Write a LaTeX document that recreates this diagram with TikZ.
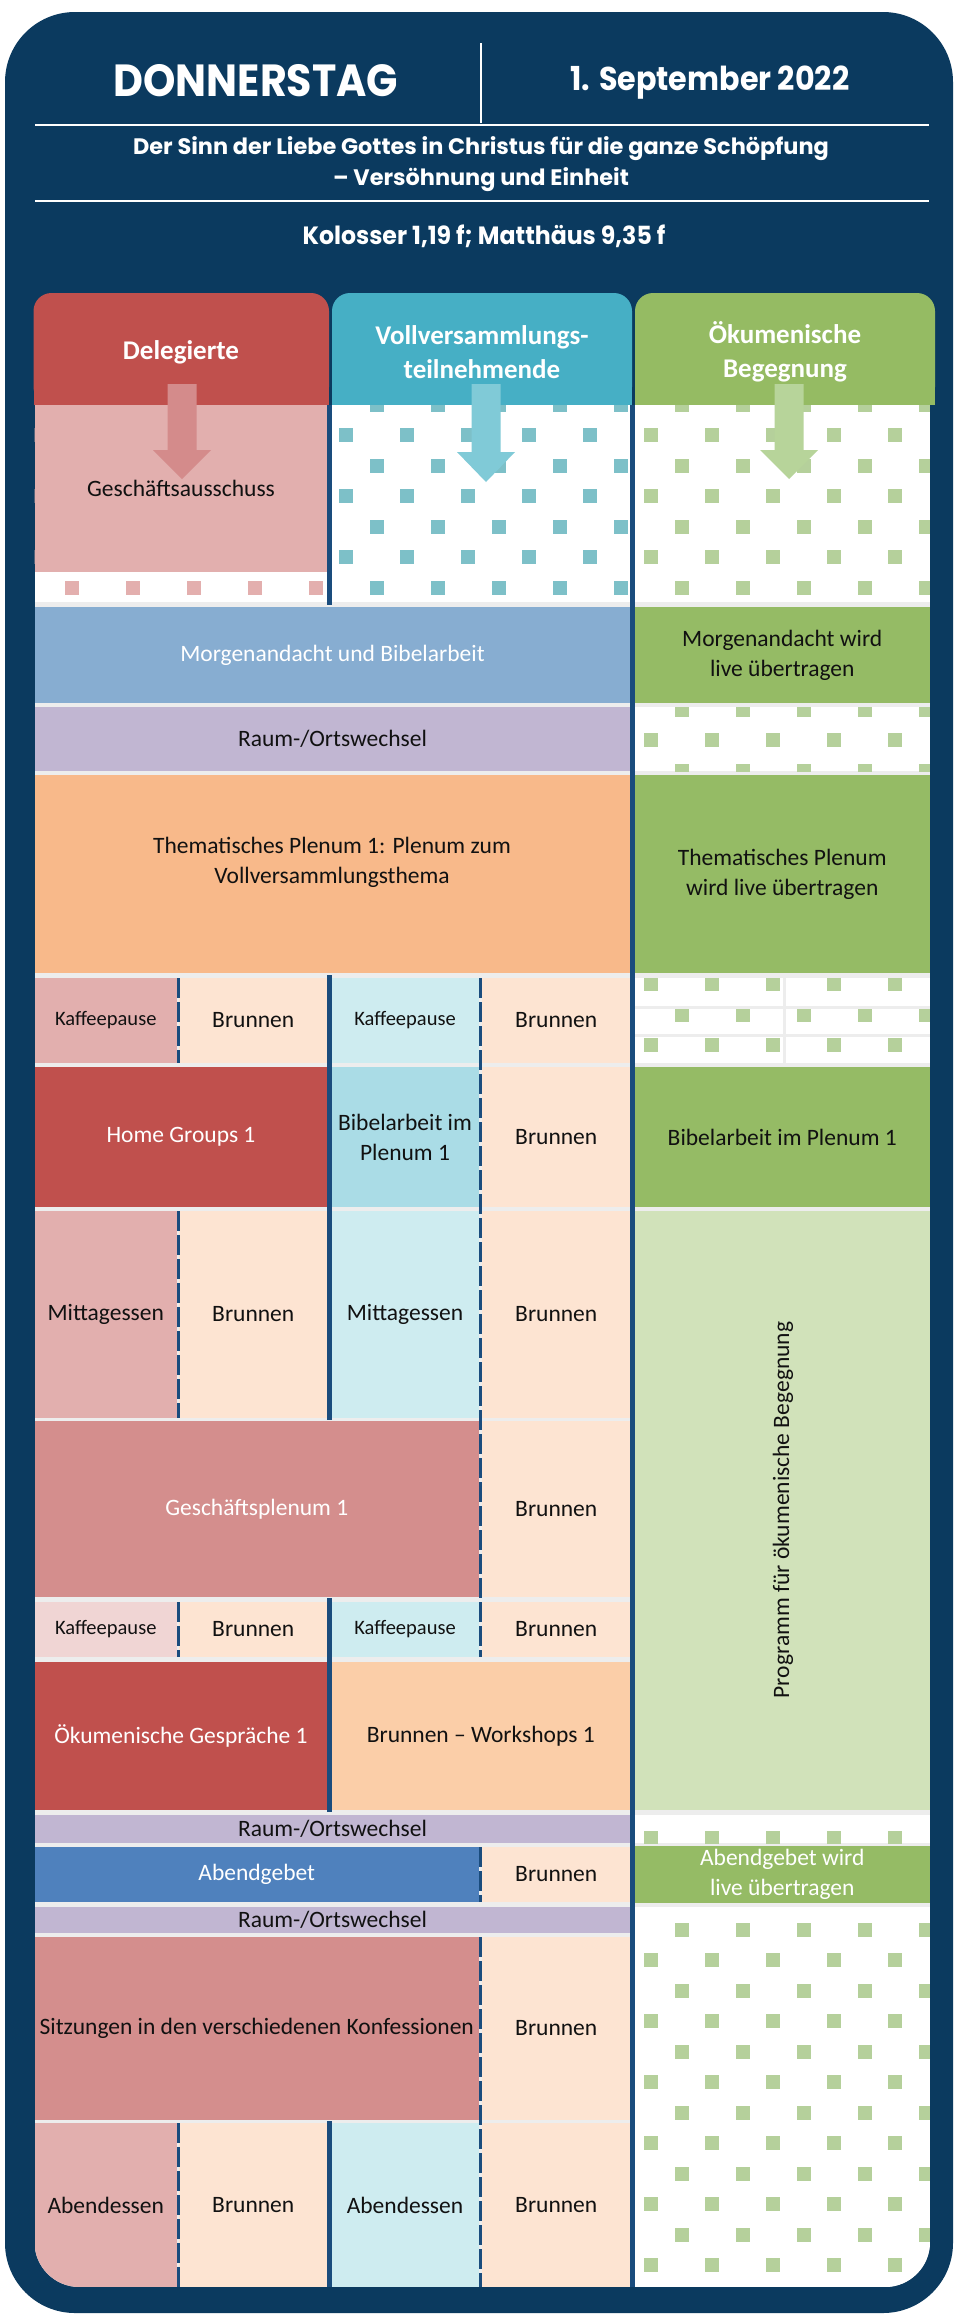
\documentclass[tikz,border=0pt]{standalone}
\usepackage{fontspec}
\setmainfont{Carlito}
\newfontfamily\headfont{Poppins}
\newfontfamily\headfontA[FakeStretch=0.915]{Poppins}
\newfontfamily\headfontB[FakeStretch=0.945]{Poppins}
\definecolor{navy}{HTML}{0B3A5F}
\definecolor{sep}{HTML}{1A4C7D}
\definecolor{hred}{HTML}{C0504D}
\definecolor{hteal}{HTML}{46AFC5}
\definecolor{hgreen}{HTML}{95BB63}
\definecolor{pinkL}{HTML}{E2AFAE}
\definecolor{pinkM}{HTML}{D48E8D}
\definecolor{pinkVL}{HTML}{F0D5D4}
\definecolor{peach}{HTML}{FDE4D2}
\definecolor{blueL}{HTML}{CEECF0}
\definecolor{blueM}{HTML}{AADCE6}
\definecolor{steel}{HTML}{87ADD1}
\definecolor{lav}{HTML}{C1B6D2}
\definecolor{orangeT}{HTML}{F8B98A}
\definecolor{peachO}{HTML}{FBCEA8}
\definecolor{abend}{HTML}{4F81BD}
\definecolor{gmid}{HTML}{95BB65}
\definecolor{glight}{HTML}{D1E2BA}
\definecolor{gapc}{HTML}{EDEDED}
\definecolor{pinksq}{HTML}{E3AFAE}
\definecolor{tealsq}{HTML}{7DC0C8}
\definecolor{greensq}{HTML}{B5D09B}
\definecolor{arrpink}{HTML}{D48B8B}
\definecolor{arrteal}{HTML}{80CAD7}
\definecolor{arrgreen}{HTML}{B7D49A}
\definecolor{txt}{HTML}{111111}
\tikzset{
  cellbox/.style={inner sep=0pt, outer sep=0pt, align=center, draw=none,
    font=\fontsize{23.5}{30}\selectfont, text=txt},
  smalltext/.style={font=\fontsize{20.5}{26}\selectfont},
  hdrshape/.style={inner sep=0pt, outer sep=0pt, draw=none, rounded corners=18pt},
  hdrtext/.style={inner sep=0pt, align=center, text=white,
    font=\fontsize{27}{34}\selectfont\bfseries},
  titletext/.style={inner sep=0pt, text=white, align=center},
  solidsep/.style={draw=sep, line width=4.5pt},
  dashsep/.style={draw=sep, line width=3pt, dash pattern=on 20pt off 4pt},
  whiteline/.style={draw=white, line width=2pt},
}
\newcommand\cell[7][]{%
  \node[cellbox,#1,minimum width={#5-#3},minimum height={#6-#4}] (#2)
    at ({(#3+#5)/2},{(#4+#6)/2}) {#7};}
\newcommand\patt[5]{%
  \begin{scope}
  \clip (#1,#2) rectangle (#3,#4);
  \fill[white] (#1,#2) rectangle (#3,#4);
  \pgfmathtruncatemacro\pja{max(0,floor((#2-374)/30.5)-1)}%
  \pgfmathtruncatemacro\pjb{ceil((#4-374)/30.5)+1}%
  \pgfmathtruncatemacro\pia{floor((#1+20)/61)-1}%
  \pgfmathtruncatemacro\pib{ceil((#3+20)/61)+1}%
  \foreach \j in {\pja,...,\pjb}{%
    \pgfmathsetmacro\pyy{374+30.5*\j}%
    \pgfmathsetmacro\pxo{-20+30.5*mod(\j,2)}%
    \foreach \i in {\pia,...,\pib}{%
      \fill[#5] ({\pxo+61*\i-7},{\pyy-7}) rectangle ++(14,14);
    }}
  \end{scope}}
\begin{document}
\begin{tikzpicture}[x=1pt,y=-1pt]
\useasboundingbox (0,0) rectangle (955,2316);
\fill[white] (0,0) rectangle (955,2316);
\fill[navy, rounded corners=70pt] (5,12) rectangle (953,2313);

% ---- title block
\node[titletext, anchor=base, font=\headfontA\bfseries\fontsize{45}{50}\selectfont] (day) at (256,96.5) {DONNERSTAG};
\node[titletext, anchor=base, font=\headfontA\bfseries\fontsize{33}{40}\selectfont] (date) at (710,90) {1. September 2022};
\coordinate (vtop) at (481,43);
\coordinate (vbot) at (481,123);
\draw[white, line width=1.5pt] (vtop) -- (vbot);
\coordinate (l1a) at (35,125); \coordinate (l1b) at (929,125);
\coordinate (l2a) at (35,201); \coordinate (l2b) at (929,201);
\draw[whiteline] (l1a) -- (l1b);
\draw[whiteline] (l2a) -- (l2b);
\node[titletext, anchor=base, font=\headfont\bfseries\fontsize{22.4}{27}\selectfont] (sub1) at (481,154) {Der Sinn der Liebe Gottes in Christus für die ganze Schöpfung};
\node[titletext, anchor=base, font=\headfont\bfseries\fontsize{22.4}{27}\selectfont] (sub2) at (481,185.7) {– Versöhnung und Einheit};
\node[titletext, anchor=base, font=\headfontB\bfseries\fontsize{25}{30}\selectfont] (verse) at (484,244.3) {Kolosser 1,19 f; Matthäus 9,35 f};

% ---- column headers
\node[hdrshape, fill=hred, minimum width=295.5, minimum height=112] (hdel) at (181.25,349) {};
\fill[hred] (33.5,330) rectangle (329,405);
\node[hdrshape, fill=hteal, minimum width=300, minimum height=112] (hvoll) at (482,349) {};
\fill[hteal] (332,330) rectangle (632,405);
\node[hdrshape, fill=hgreen, minimum width=300, minimum height=112] (hoek) at (785,349) {};
\fill[hgreen] (635,330) rectangle (935,405);
\node[hdrtext] (tdel) at (181,352) {Delegierte};
\node[hdrtext] (tvoll) at (482,352) {Vollversammlungs-\\teilnehmende};
\node[hdrtext] (toek) at (785,352) {Ökumenische\\Begegnung};

% ---- content
\begin{scope}
\clip[rounded corners=45pt] (34.5,300) rectangle (930,2287);
\fill[gapc] (34.5,405) rectangle (930,2287);

% top area
\patt{34.5}{405}{329}{602}{pinksq}
\cell[fill=pinkL]{ga}{34.5}{405}{327.5}{572}{Geschäftsausschuss}
\patt{331}{405}{630.5}{602}{tealsq}
\patt{634.5}{405}{930}{602}{greensq}

% row A
\cell[fill=steel, text=white]{mab}{34.5}{607}{630.5}{703}{Morgenandacht und Bibelarbeit}
\cell[fill=gmid]{mlive}{634.5}{607}{930}{703}{Morgenandacht wird\\live übertragen}
% row B
\cell[fill=lav]{rw1}{34.5}{707}{630.5}{771}{Raum-/Ortswechsel}
\patt{634.5}{707}{930}{771}{greensq}
% row C
\cell[fill=orangeT]{tp}{34.5}{775}{630.5}{973}{}
\node[cellbox] (tptext) at (332,862) {Thematisches Plenum 1: Plenum zum\\Vollversammlungsthema};
\cell[fill=gmid]{tplive}{634.5}{775}{930}{973}{Thematisches Plenum\\wird live übertragen}
% row D
\cell[fill=pinkL, smalltext]{kd1}{34.5}{978}{177}{1063}{Kaffeepause}
\cell[fill=peach]{bd1}{179}{978}{327.5}{1063}{Brunnen}
\cell[fill=blueL, smalltext]{kv1}{331}{978}{479}{1063}{Kaffeepause}
\cell[fill=peach]{bv1}{482}{978}{630.5}{1063}{Brunnen}
\patt{634.5}{978}{930}{1063}{greensq}
\draw[gapc, line width=3pt] (784,978) -- (784,1063);
\draw[gapc, line width=3pt] (634.5,1007) -- (930,1007);
\draw[gapc, line width=3pt] (634.5,1035) -- (930,1035);
% row E
\cell[fill=hred, text=white]{hg}{34.5}{1067}{327.5}{1207}{Home Groups 1}
\cell[fill=blueM]{bip}{331}{1067}{479}{1207}{Bibelarbeit im\\Plenum 1}
\cell[fill=peach]{bv2}{482}{1067}{630.5}{1207}{Brunnen}
\cell[fill=gmid]{bipg}{634.5}{1067}{930}{1207}{Bibelarbeit im Plenum 1}
% row F
\cell[fill=pinkL]{md}{34.5}{1211}{177}{1418}{Mittagessen}
\cell[fill=peach]{bd3}{179}{1211}{327.5}{1418}{Brunnen}
\cell[fill=blueL]{mv}{331}{1211}{479}{1418}{Mittagessen}
\cell[fill=peach]{bv3}{482}{1211}{630.5}{1418}{Brunnen}
\cell[fill=glight]{prog}{634.5}{1211}{930}{1810}{}
\node[cellbox, rotate=90] (progtext) at (783,1510) {Programm für ökumenische Begegnung};
% row G
\cell[fill=pinkM, text=white]{gp}{34.5}{1421}{479}{1597}{Geschäftsplenum 1}
\cell[fill=peach]{bv4}{482}{1421}{630.5}{1597}{Brunnen}
% row H
\cell[fill=pinkVL, smalltext]{kd2}{34.5}{1602}{177}{1657}{Kaffeepause}
\cell[fill=peach]{bd5}{179}{1602}{327.5}{1657}{Brunnen}
\cell[fill=blueL, smalltext]{kv2}{331}{1602}{479}{1657}{Kaffeepause}
\cell[fill=peach]{bv5}{482}{1602}{630.5}{1657}{Brunnen}
% row I
\cell[fill=hred, text=white]{oeg}{34.5}{1662}{327.5}{1810}{Ökumenische Gespräche 1}
\cell[fill=peachO]{bw}{331}{1662}{630.5}{1810}{Brunnen – Workshops 1}
% row J
\cell[fill=lav]{rw2}{34.5}{1815}{630.5}{1843}{Raum-/Ortswechsel}
\patt{634.5}{1815}{930}{1843}{greensq}
% row K
\cell[fill=abend, text=white]{ag}{34.5}{1847}{479}{1902}{Abendgebet}
\cell[fill=peach]{bv6}{482}{1847}{630.5}{1902}{Brunnen}
\cell[fill=gmid, text=white]{aglive}{634.5}{1846}{930}{1903}{Abendgebet wird\\live übertragen}
% row L
\cell[fill=lav]{rw3}{34.5}{1907}{630.5}{1933}{Raum-/Ortswechsel}
\patt{634.5}{1907}{930}{2287}{greensq}
% row M
\cell[fill=pinkM]{sk}{34.5}{1937}{479}{2120}{Sitzungen in den verschiedenen Konfessionen}
\cell[fill=peach]{bv7}{482}{1937}{630.5}{2120}{Brunnen}
% row N
\cell[fill=pinkL]{ad}{34.5}{2123}{177}{2287}{Abendessen}
\cell[fill=peach]{bd8}{179}{2123}{327.5}{2287}{Brunnen}
\cell[fill=blueL]{av}{331}{2123}{479}{2287}{Abendessen}
\cell[fill=peach]{bv8}{482}{2123}{630.5}{2287}{Brunnen}
\end{scope}

% ---- separators
\draw[solidsep] (632.5,405) -- (632.5,2287);
\draw[solidsep] (329.5,405) -- (329.5,605);
\draw[solidsep] (329.5,975) -- (329.5,1420);
\draw[solidsep] (329.5,1598) -- (329.5,1812);
\draw[solidsep] (329.5,2121) -- (329.5,2287);
\draw[dashsep] (178,978) -- (178,1063);
\draw[dashsep] (178,1211) -- (178,1418);
\draw[dashsep] (178,1602) -- (178,1657);
\draw[dashsep] (178,2123) -- (178,2287);
\draw[dashsep] (480.5,978) -- (480.5,1657);
\draw[dashsep] (480.5,1847) -- (480.5,1902);
\draw[dashsep] (480.5,1937) -- (480.5,2287);

% ---- arrows
\fill[arrpink] (167.5,384) -- (196.5,384) -- (196.5,450) -- (211,450) -- (182,479) -- (153,450) -- (167.5,450) -- cycle;
\fill[arrteal] (471.5,384) -- (500.5,384) -- (500.5,452) -- (515,452) -- (486,482) -- (457,452) -- (471.5,452) -- cycle;
\fill[arrgreen] (774.5,384) -- (803.5,384) -- (803.5,450) -- (818,450) -- (789,479) -- (760,450) -- (774.5,450) -- cycle;
\end{tikzpicture}
\end{document}
